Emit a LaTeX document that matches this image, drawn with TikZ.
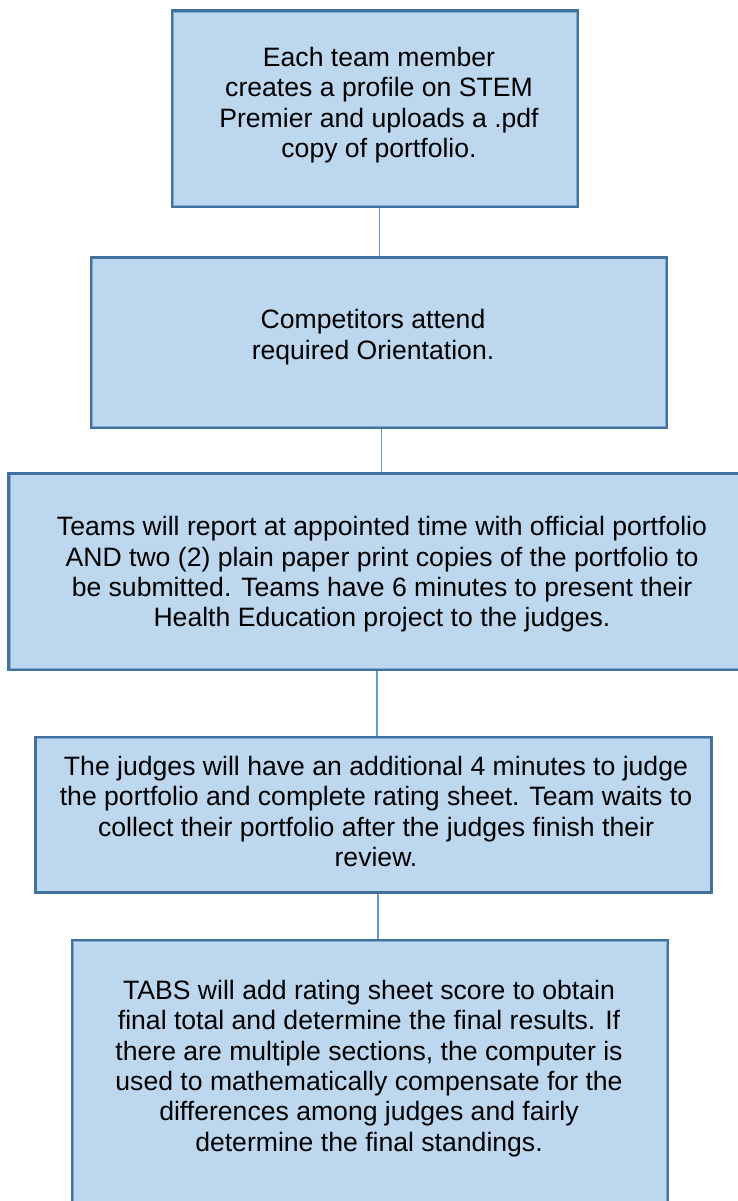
\documentclass[tikz,border=0pt]{standalone}
\usepackage{fontspec}
\setmainfont{Liberation Sans}
\definecolor{boxfill}{RGB}{189,215,238}
\definecolor{boxline}{RGB}{65,113,156}
\definecolor{boxinner}{RGB}{125,170,215}
\definecolor{linkline}{RGB}{91,155,213}
\begin{document}
\begin{tikzpicture}[x=1pt,y=-1pt,
  flowbox/.style={draw=boxline,line width=2.4pt,fill=boxfill,rectangle,inner sep=0pt,
     path picture={\draw[boxinner,line width=0.9pt]
        ([shift={(1.5,1.5)}]path picture bounding box.north west) rectangle
        ([shift={(-1.5,-1.5)}]path picture bounding box.south east);}},
  flowtext/.style={align=center,inner sep=0pt,text=black,
     font=\fontsize{26.6}{30.3}\selectfont},
  link/.style={draw=linkline,line width=1.2pt}]
\useasboundingbox (0,0) rectangle (738,1201);
\clip (0,0) rectangle (738,1201);
% boxes
\node[flowbox,minimum width=405.7pt,minimum height=196pt] (b1) at (375,108.7) {};
\node[flowbox,minimum width=576.5pt,minimum height=170.4pt] (b2) at (379,342.5) {};
\node[flowbox,minimum width=747.5pt,minimum height=196.7pt] (b3) at (382.2,571.7) {};
\node[flowbox,minimum width=676.2pt,minimum height=155.7pt] (b4) at (373.4,814.8) {};
\node[flowbox,minimum width=596pt,minimum height=280pt] (b5) at (370,1080) {};
% texts
\node[flowtext] (t1) at (379,105) {Each team member\\creates a profile on STEM\\Premier and uploads a .pdf\\copy of portfolio.};
\node[flowtext] (t2) at (373,337) {Competitors attend\\required Orientation.};
\node[flowtext] (t3) at (382,574.5) {Teams will report at appointed time with official portfolio\\AND two (2) plain paper print copies of the portfolio to\\be submitted. Teams have 6 minutes to present their\\Health Education project to the judges.};
\node[flowtext] (t4) at (376,811.5) {The judges will have an additional 4 minutes to judge\\the portfolio and complete rating sheet. Team waits to\\collect their portfolio after the judges finish their\\review.};
\node[flowtext] (t5) at (369,1068.5) {TABS will add rating sheet score to obtain\\final total and determine the final results. If\\there are multiple sections, the computer is\\used to mathematically compensate for the\\differences among judges and fairly\\determine the final standings.};
% connectors
\draw[link] (b1.south -| 379.3,0) -- (b2.north -| 379.3,0);
\draw[link] (b2.south -| 381.2,0) -- (b3.north -| 381.2,0);
\draw[link] (b3.south -| 377,0) -- (b4.north -| 377,0);
\draw[link] (b4.south -| 377.9,0) -- (b5.north -| 377.9,0);
\end{tikzpicture}
\end{document}
